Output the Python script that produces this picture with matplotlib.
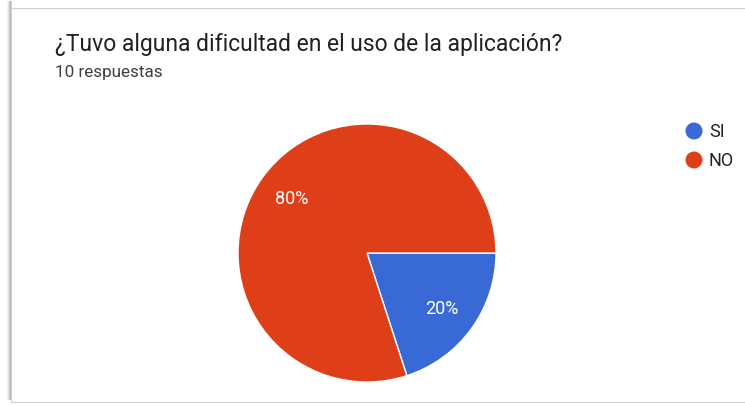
import matplotlib.pyplot as plt
from matplotlib.patches import Rectangle, Ellipse

plt.rcParams['font.family'] = ['Roboto', 'DejaVu Sans']

# Respuestas del formulario
categorias = ["SI", "NO"]
respuestas = [2, 8]
colores = ["#3869d4", "#df3f18"]
titulo = "¿Tuvo alguna dificultad en el uso de la aplicación?"
subtitulo = "10 respuestas"

W, H = 745, 406
fig = plt.figure(figsize=(W / 100, H / 100), dpi=100)
fig.patch.set_facecolor("white")

# Tarjeta con sombra a la izquierda (detrás de todo)
for i, a in enumerate([0.05, 0.08, 0.12, 0.18]):
    fig.patches.append(Rectangle(((7 + i) / W, 5 / H), 2 / W, 399 / H,
                                 transform=fig.transFigure, facecolor="black",
                                 alpha=a, edgecolor="none", zorder=-3))
fig.patches.append(Rectangle((11 / W, 3 / H), 740 / W, 394 / H,
                             transform=fig.transFigure, facecolor="white",
                             edgecolor="#d0d0d0", linewidth=0.8, zorder=-2))

fig.text(55 / W, 1 - 51 / H, titulo, fontsize=16.5, color="#202124")
fig.text(55 / W, 1 - 77 / H, subtitulo, fontsize=12.3, color="#3c4043")

# Gráfico circular
ax = fig.add_axes([238 / W, 23 / H, 258 / W, 258 / H])
ax.set_zorder(1)
wedges, textos, autotextos = ax.pie(
    respuestas, colors=colores, startangle=0, counterclock=False,
    autopct="%1.0f%%", pctdistance=0.72, radius=1,
    wedgeprops=dict(edgecolor="white", linewidth=1),
    textprops=dict(color="white", fontsize=13))
ax.set_xlim(-1, 1)
ax.set_ylim(-1, 1)
ax.set_aspect("equal")
ax.axis("off")

# Leyenda
for k, (cat, col) in enumerate(zip(categorias, colores)):
    y = 1 - (132 + 29 * k) / H
    fig.patches.append(Ellipse((694 / W, y), 17 / W, 17 / H, transform=fig.transFigure,
                               facecolor=col, edgecolor="none"))
    fig.text(709 / W, y, cat, fontsize=13, color="#222222", va="center")

fig.savefig("out.png", dpi=100)
